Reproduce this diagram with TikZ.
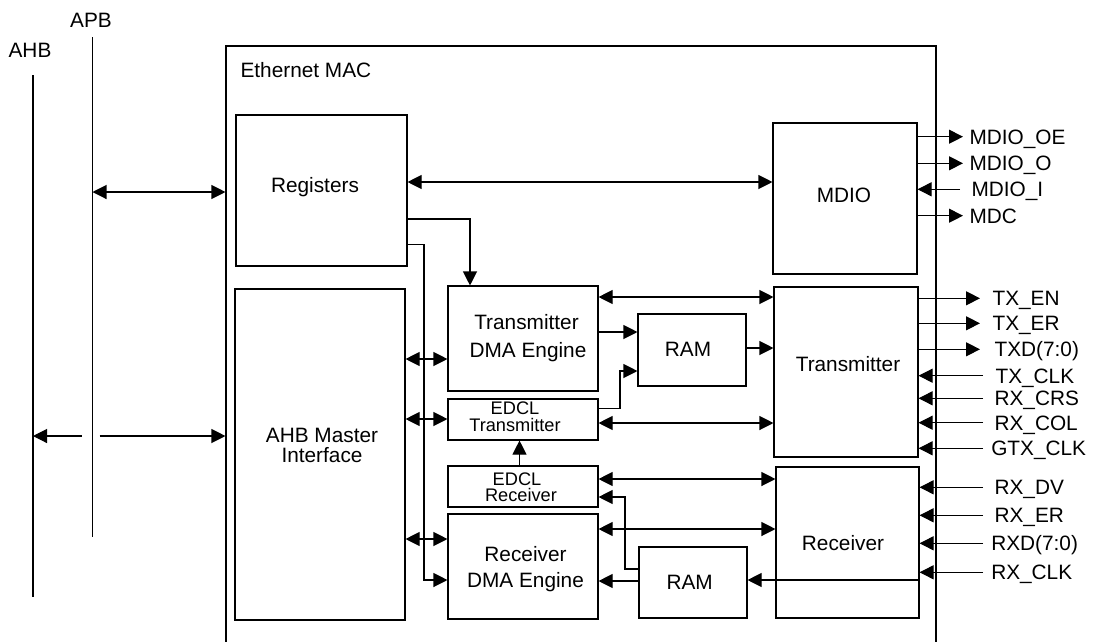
\documentclass[tikz,border=0pt]{standalone}
\usepackage{fontspec}
\setmainfont{Liberation Sans}
\usetikzlibrary{arrows.meta}
\begin{document}
\begin{tikzpicture}[x=1pt,y=-1pt,line width=1.1pt,
  box/.style={draw,inner sep=0pt},
  txt/.style={anchor=base,inner sep=0pt,font=\fontsize{20.8}{24}\selectfont},
  stxt/.style={anchor=base,inner sep=0pt,font=\fontsize{18.2}{18}\selectfont},
  sig/.style={anchor=base west,inner sep=0pt,font=\fontsize{20.8}{24}\selectfont},
  tip/.style={-{Triangle[length=14pt,width=14pt]}},
  dtip/.style={{Triangle[length=14pt,width=14pt]}-{Triangle[length=14pt,width=14pt]}}]
\useasboundingbox (0,0) rectangle (1094,641);
% buses
\coordinate (ahbTop) at (33,75);
\coordinate (ahbBot) at (33,597);
\coordinate (apbTop) at (92.5,37);
\coordinate (apbBot) at (92.5,537);
\draw (ahbTop) -- (ahbBot);
\draw (apbTop) -- (apbBot);
\node[txt] (ahbL) at (30,57) {AHB};
\node[txt] (apbL) at (91,27) {APB};
% Ethernet MAC
\node[box,minimum width=710,minimum height=620] (mac) at (581,356) {};
\node[sig] (macL) at (240,77.7) {Ethernet MAC};
% boxes
\node[box,minimum width=171,minimum height=151] (reg) at (321.5,190.5) {};
\node[box,minimum width=170,minimum height=331] (ahb) at (320,454.5) {};
\node[box,minimum width=150,minimum height=105] (txdma) at (523,338.5) {};
\node[box,minimum width=150,minimum height=41] (edcltx) at (523,419.5) {};
\node[box,minimum width=150,minimum height=41] (edclrx) at (523,486.5) {};
\node[box,minimum width=150,minimum height=105] (rxdma) at (523,566.5) {};
\node[box,minimum width=108,minimum height=72] (txram) at (692,350) {};
\node[box,minimum width=108,minimum height=71] (rxram) at (693,582.5) {};
\node[box,minimum width=144,minimum height=151] (mdio) at (845,198.5) {};
\node[box,minimum width=144,minimum height=170] (tx) at (846,372) {};
\node[box,minimum width=143,minimum height=151] (rx) at (847.5,542.5) {};
% box texts
\node[txt] (regT) at (315,192) {Registers};
\node[txt] (ahbT1) at (322,442) {AHB Master};
\node[txt] (ahbT2) at (322,462) {Interface};
\node[txt] (txdmaT1) at (526.5,329) {Transmitter};
\node[txt] (txdmaT2) at (528,357.7) {DMA Engine};
\node[stxt] (edcltxT1) at (515,414.6) {EDCL};
\node[stxt] (edcltxT2) at (515,431.7) {Transmitter};
\node[stxt] (edclrxT1) at (517,485) {EDCL};
\node[stxt] (edclrxT2) at (521,501.7) {Receiver};
\node[txt] (rxdmaT1) at (525.5,561) {Receiver};
\node[txt] (rxdmaT2) at (525.5,587.7) {DMA Engine};
\node[txt] (txramT) at (688,356) {RAM};
\node[txt] (rxramT) at (689.7,589.3) {RAM};
\node[txt] (mdioT) at (844,202.7) {MDIO};
\node[txt] (txT) at (848,371) {Transmitter};
\node[txt] (rxT) at (843,550.7) {Receiver};
% bus connections
\draw[dtip] (apbTop |- 0,192) -- (mac.west |- 0,192);
\draw[tip] ([xshift=-11pt]apbTop |- 0,436) -- (ahbTop |- 0,436);
\draw[tip] ([xshift=7pt]apbTop |- 0,436) -- (mac.west |- 0,436);
% internal
\draw[dtip] (reg.east |- 0,182) -- (mdio.west |- 0,182);
\draw[tip] (reg.east |- 0,219) -| (txdma.north -| 470,0);
\draw[tip] (reg.east |- 0,244.5) -- (424,244.5) -- (424,580) -- (rxdma.west |- 0,580);
\draw[dtip] (ahb.east |- 0,359) -- (txdma.west |- 0,359);
\draw[dtip] (ahb.east |- 0,419) -- (edcltx.west |- 0,419);
\draw[dtip] (ahb.east |- 0,539) -- (rxdma.west |- 0,539);
\draw[tip] (edclrx.north -| 519.5,0) -- (edcltx.south -| 519.5,0);
\draw[dtip] (txdma.east |- 0,297) -- (tx.west |- 0,297);
\draw[tip] (txdma.east |- 0,332) -- (txram.west |- 0,332);
\draw[tip] (edcltx.east |- 0,408.5) -- (620,408.5) -- (620,371) -- (txram.west |- 0,371);
\draw[tip] (txram.east |- 0,348) -- (tx.west |- 0,348);
\draw[dtip] (edcltx.east |- 0,423) -- (tx.west |- 0,423);
\draw[dtip] (edclrx.east |- 0,479) -- (rx.west |- 0,479);
\draw[dtip] (rxdma.east |- 0,529) -- (rx.west |- 0,529);
\draw[tip] (rxram.west |- 0,569) -- (625,569) -- (625,497) -- (edclrx.east |- 0,497);
\draw[tip] (rxram.west |- 0,581) -- (rxdma.east |- 0,581);
\draw[tip] (rx.east |- 0,580) -- (rxram.east |- 0,580);
% MDIO signals
\node[sig] (mdiooe) at (969,144.1) {MDIO\_OE};
\node[sig] (mdioo) at (969,170.7) {MDIO\_O};
\node[sig] (mdioi) at (971,196.7) {MDIO\_I};
\node[sig] (mdc) at (969,223.1) {MDC};
\draw[tip] (mdio.east |- 0,136.7) -- (963,136.7);
\draw[tip] (mdio.east |- 0,163.3) -- (963,163.3);
\draw[tip] (960,189.3) -- (mdio.east |- 0,189.3);
\draw[tip] (mdio.east |- 0,215.7) -- (963,215.7);
% Transmitter signals
\node[sig] (txen) at (992,305.7) {TX\_EN};
\node[sig] (txer) at (992,330.7) {TX\_ER};
\node[sig] (txd) at (994,356.7) {TXD(7:0)};
\node[sig] (txclk) at (995,383.1) {TX\_CLK};
\node[sig] (rxcrs) at (994,405.7) {RX\_CRS};
\node[sig] (rxcol) at (994,430.1) {RX\_COL};
\node[sig] (gtxclk) at (990.7,455.7) {GTX\_CLK};
\draw[tip] (tx.east |- 0,298.3) -- (980,298.3);
\draw[tip] (tx.east |- 0,323.3) -- (980,323.3);
\draw[tip] (tx.east |- 0,349.3) -- (980,349.3);
\draw[tip] (983,375.7) -- (tx.east |- 0,375.7);
\draw[tip] (983,398.3) -- (tx.east |- 0,398.3);
\draw[tip] (983,422.7) -- (tx.east |- 0,422.7);
\draw[tip] (983,448.3) -- (tx.east |- 0,448.3);
% Receiver signals
\node[sig] (rxdv) at (994,494.7) {RX\_DV};
\node[sig] (rxer) at (994,522.7) {RX\_ER};
\node[sig] (rxd) at (990.7,550.7) {RXD(7:0)};
\node[sig] (rxclk) at (990.7,579.7) {RX\_CLK};
\draw[tip] (983,487.3) -- (rx.east |- 0,487.3);
\draw[tip] (983,515.3) -- (rx.east |- 0,515.3);
\draw[tip] (983,543.3) -- (rx.east |- 0,543.3);
\draw[tip] (983,572.3) -- (rx.east |- 0,572.3);
\end{tikzpicture}
\end{document}
